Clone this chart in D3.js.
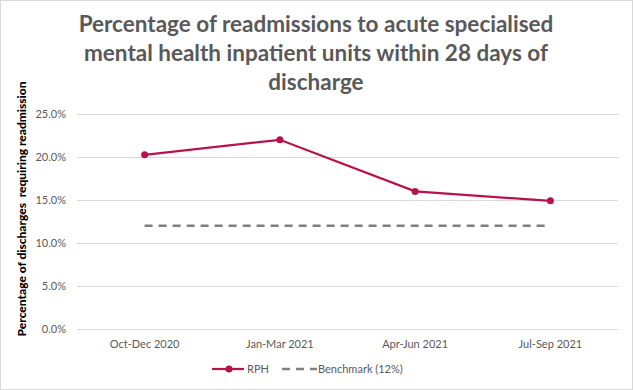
<!DOCTYPE html>
<html lang="en">
<head>
    <meta charset="UTF-8">
    <script src="https://d3js.org/d3.v7.min.js"></script>
    <style>
        body { margin: 0; background: #fff; }
        svg { display: block; }
    </style>
</head>
<body>
<div id="chart"></div>
<script>
    // data
    var quarters = ["Oct-Dec 2020", "Jan-Mar 2021", "Apr-Jun 2021", "Jul-Sep 2021"];
    var rph = [20.25, 22.0, 16.0, 14.9];
    var benchmark = [12, 12, 12, 12];
    var yTicks = [0, 5, 10, 15, 20, 25];
    var titleLines = ["Percentage of readmissions to acute specialised",
        "mental health inpatient units within 28 days of", "discharge"];

    var W = 633, H = 390;
    var margin = { top: 114, right: 15, bottom: 61, left: 77 },
        width = W - margin.left - margin.right,
        height = H - margin.top - margin.bottom;

    var svg = d3.select("#chart")
        .append("svg")
        .attr("width", W)
        .attr("height", H);

    // outer border
    svg.append("rect")
        .attr("x", 0.5).attr("y", 0.5)
        .attr("width", W - 1).attr("height", H - 1)
        .style("fill", "white")
        .style("stroke", "#d9d9d9");

    // title
    svg.append("g").selectAll("text")
        .data(titleLines)
        .enter()
        .append("text")
        .attr("x", 316)
        .attr("y", function (d, i) { return 32 + i * 29; })
        .attr("text-anchor", "middle")
        .attr("font-family", "Lato, sans-serif")
        .attr("font-weight", "bold")
        .attr("font-size", "22.5px")
        .attr("fill", "#595959")
        .text(function (d) { return d; });

    var g = svg.append("g")
        .attr("transform", "translate(" + margin.left + "," + margin.top + ")");

    var x = d3.scaleBand()
        .domain(quarters)
        .range([0, width]);
    var y = d3.scaleLinear()
        .domain([0, 25])
        .range([height, 0]);

    // gridlines
    g.append("g")
        .call(d3.axisLeft(y).tickValues(yTicks).tickSize(-width).tickFormat(""))
        .call(function (a) {
            a.select(".domain").remove();
            a.selectAll("line").attr("stroke", "#d9d9d9");
        });

    // y tick labels
    g.append("g")
        .call(d3.axisLeft(y).tickValues(yTicks).tickSize(0).tickPadding(11)
            .tickFormat(function (d) { return d.toFixed(1) + "%"; }))
        .call(function (a) {
            a.select(".domain").remove();
            a.selectAll("text")
                .attr("font-family", "Lato, sans-serif")
                .attr("font-size", "11px")
                .attr("fill", "#595959");
        });

    // x axis
    g.append("g")
        .attr("transform", "translate(0," + height + ")")
        .call(d3.axisBottom(x).tickSize(0).tickPadding(11))
        .call(function (a) {
            a.select(".domain").remove();
            a.selectAll("text")
                .attr("font-family", "Lato, sans-serif")
                .attr("font-size", "11px")
                .attr("fill", "#595959");
        });

    var cx = function (d, i) { return x(quarters[i]) + x.bandwidth() / 2; };

    // benchmark
    g.append("path")
        .datum(benchmark)
        .attr("d", d3.line().x(cx).y(function (d) { return y(d); }))
        .style("fill", "none")
        .style("stroke", "#808080")
        .style("stroke-width", 2.5)
        .style("stroke-dasharray", "8,6");

    // RPH line
    var red = "#b8124a";
    g.append("path")
        .datum(rph)
        .attr("d", d3.line().x(cx).y(function (d) { return y(d); }))
        .style("fill", "none")
        .style("stroke", red)
        .style("stroke-width", 2.25);
    g.selectAll("circle.pt")
        .data(rph)
        .enter()
        .append("circle")
        .attr("class", "pt")
        .attr("cx", cx)
        .attr("cy", function (d) { return y(d); })
        .attr("r", 3.5)
        .style("fill", red);

    // y axis title
    svg.append("text")
        .attr("transform", "translate(26,209) rotate(-90)")
        .attr("text-anchor", "middle")
        .attr("font-family", "Lato, sans-serif")
        .attr("font-weight", "900")
        .attr("font-size", "12px")
        .attr("fill", "#000")
        .attr("xml:space", "preserve")
        .text("Percentage of discharges  requiring readmission");

    // legend
    var lg = svg.append("g").attr("transform", "translate(0,369)");
    lg.append("line")
        .attr("x1", 212).attr("x2", 244)
        .style("stroke", red).style("stroke-width", 2.25);
    lg.append("circle").attr("cx", 229).attr("cy", 0).attr("r", 3.5).style("fill", red);
    lg.append("text").attr("x", 247).attr("y", 4)
        .attr("font-family", "Lato, sans-serif").attr("font-size", "11px")
        .attr("fill", "#595959").text("RPH");
    lg.append("line")
        .attr("x1", 282).attr("x2", 317)
        .style("stroke", "#808080").style("stroke-width", 2.5)
        .style("stroke-dasharray", "8,6");
    lg.append("text").attr("x", 318).attr("y", 4)
        .attr("font-family", "Lato, sans-serif").attr("font-size", "11px")
        .attr("fill", "#595959").text("Benchmark (12%)");
</script>
</body>
</html>
